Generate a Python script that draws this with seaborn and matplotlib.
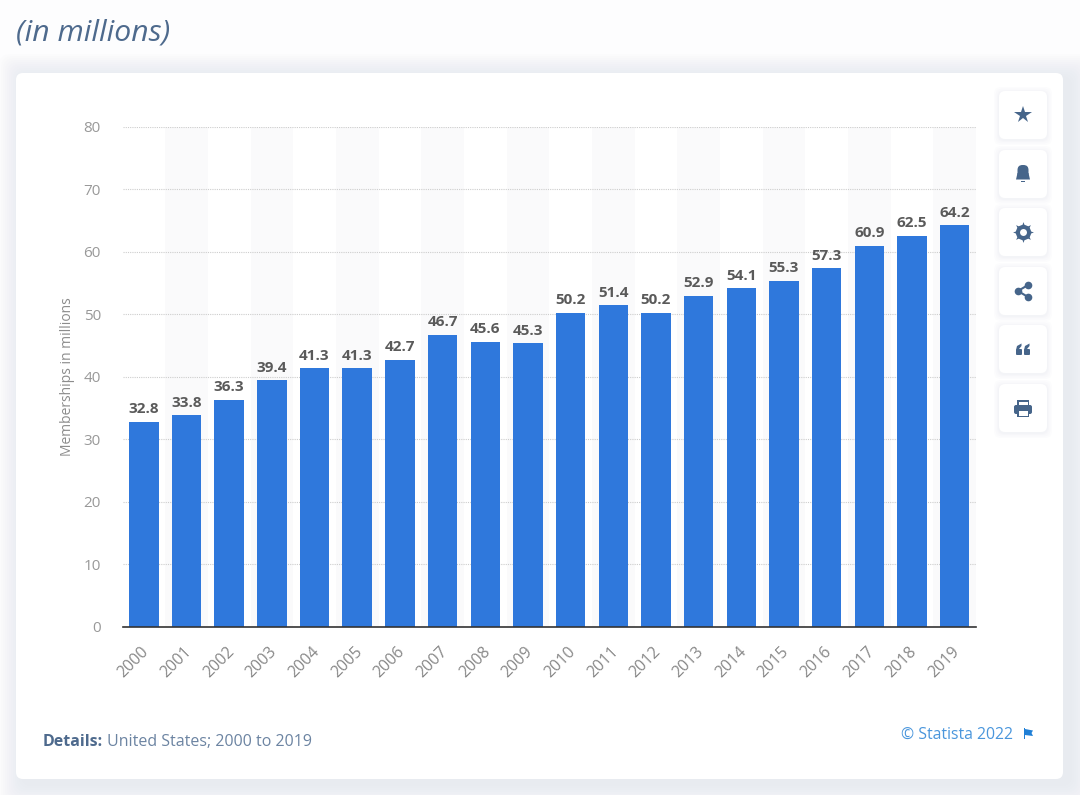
import matplotlib
matplotlib.use('Agg')
from matplotlib import pyplot as plt
from matplotlib.patches import FancyBboxPatch, Rectangle, Polygon
from matplotlib.transforms import ScaledTranslation
import pandas as pd
import seaborn as sns

# chart data
years = ['2000','2001','2002','2003','2004','2005','2006','2007','2008','2009',
         '2010','2011','2012','2013','2014','2015','2016','2017','2018','2019']
memberships = [32.8,33.8,36.3,39.4,41.3,41.3,42.7,46.7,45.6,45.3,
               50.2,51.4,50.2,52.9,54.1,55.3,57.3,60.9,62.5,64.2]
y_ticks = [0,10,20,30,40,50,60,70,80]

W,H = 1080,795
bar_color = '#2f78dc'
icon_color = '#46658a'

sns.set_theme(style='white')
plt.rcParams['font.family'] = ['Open Sans','DejaVu Sans']

fig = plt.figure(figsize=(W/100,H/100),dpi=100,facecolor='#fdfdfe')

# whole figure overlay in pixel coords (y down)
bg = fig.add_axes([0,0,1,1],zorder=0)
bg.set_xlim(0,W)
bg.set_ylim(H,0)
bg.axis('off')

# soft shadow and white card
for grow in range(48,0,-4):
    bg.add_patch(FancyBboxPatch((16-grow/2+7,73-grow/2+5),1047+grow,706+grow,
                                boxstyle='round,pad=0,rounding_size=12',fc='#cdd2dc',ec='none',alpha=0.03))
bg.add_patch(FancyBboxPatch((16,73),1047,706,boxstyle='round,pad=0,rounding_size=7',fc='white',ec='none'))

bg.text(16,33,'(in millions)',fontsize=21.7,style='italic',color='#4e6a8d',va='center',ha='left')

# bar chart
ax = fig.add_axes([122.5/W,1-626.6/H,853.5/W,500/H],zorder=1)
ax.patch.set_alpha(0)
df = pd.DataFrame({'year':years,'memberships':memberships})
sns.barplot(data=df,x='year',y='memberships',color=bar_color,saturation=1,width=0.69,linewidth=0,ax=ax,zorder=3)
for i in range(1,len(years),2):
    ax.axvspan(i-0.5,i+0.5,color='#fafafb',lw=0,zorder=0)
ax.set_xlim(-0.5,len(years)-0.5)
ax.set_ylim(0,80)
ax.set_yticks(y_ticks)
ax.yaxis.grid(True,linestyle=(0,(1,1)),linewidth=0.8,color='#cdcdcd',zorder=1)
ax.set_axisbelow(True)
for s in ['top','left','right']:
    ax.spines[s].set_visible(False)
ax.spines['bottom'].set_color('#333333')
ax.spines['bottom'].set_linewidth(1.2)
ax.spines['bottom'].set_zorder(5)
ax.tick_params(axis='both',length=0)
ax.tick_params(axis='y',labelsize=11,labelcolor='#999999',pad=15.5)
ax.tick_params(axis='x',labelsize=11.5,labelcolor='#888888',pad=12)
x_shift = ScaledTranslation(-3/100,0,fig.dpi_scale_trans)
for lab in ax.get_xticklabels():
    lab.set_rotation(45)
    lab.set_ha('right')
    lab.set_rotation_mode('anchor')
    lab.set_transform(lab.get_transform()+x_shift)
ax.set_xlabel('')
ax.set_ylabel('Memberships in millions',fontsize=10,color='#8c8c8c')
ax.yaxis.set_label_coords((75-122.5)/853.5,0.5)
for c in ax.containers:
    ax.bar_label(c,fmt='%.1f',padding=4,fontsize=11,fontweight='bold',color='#5a5a5a')

# footer
bg.text(43,741.5,'Details:',fontsize=11.5,fontweight='bold',color='#4e6a8d',va='center',ha='left')
bg.text(107,741.5,'United States; 2000 to 2019',fontsize=11.55,color='#6c84a2',va='center',ha='left')
bg.text(1013,734.5,'© Statista 2022',fontsize=11.4,color='#4a96dc',va='center',ha='right')
bg.add_patch(Rectangle((1024,728),1.4,11,fc='#1f7fd6',ec='none'))
bg.add_patch(Polygon([(1025,729),(1033,730.5),(1031.5,733),(1033,736),(1025,735)],fc='#1f7fd6',ec='none'))

# toolbar buttons on the right
btn_tops = [91,150,208,267,325,384]
for top in btn_tops:
    for g in (5,3.5,2,1):
        bg.add_patch(FancyBboxPatch((999-g,top-g+1),48+2*g,48+2*g,
                                    boxstyle='round,pad=0,rounding_size=7',fc='#c9d0e0',ec='none',alpha=0.05))
    bg.add_patch(FancyBboxPatch((999,top),48,48,boxstyle='round,pad=0,rounding_size=6',fc='white',ec='none'))

cx = 1023
# star
bg.plot([cx],[114.5],marker='*',ms=13,color=icon_color,mew=0)
# bell
bg.add_patch(FancyBboxPatch((cx-5.5,165),11,14,boxstyle='round,pad=0,rounding_size=5',fc=icon_color,ec='none'))
bg.add_patch(Polygon([(cx-7,179.5),(cx+7,179.5),(cx+5.5,173),(cx-5.5,173)],fc=icon_color,ec='none'))
bg.add_patch(Rectangle((cx-2,180.5),4,1.5,fc=icon_color,ec='none'))
# gear
bg.plot([cx],[232],marker=(8,1,0),ms=15,color=icon_color,mew=0,zorder=3)
bg.plot([cx],[232],'o',ms=11,color=icon_color,mew=0,zorder=4)
bg.plot([cx],[232],'o',ms=5,color='white',mew=0,zorder=5)
# share
bg.plot([cx+5,cx-5,cx+5],[285,291,297],color=icon_color,lw=1.5)
bg.plot([cx+5,cx-5,cx+5],[285,291,297],'o',ms=5.5,color=icon_color,mew=0)
# quote
for dx in (-7,1):
    bg.add_patch(FancyBboxPatch((cx+dx,349),6,6,boxstyle='round,pad=0,rounding_size=1',fc=icon_color,ec='none'))
    bg.add_patch(Polygon([(cx+dx,350),(cx+dx+1,346),(cx+dx+5.5,343.5),(cx+dx+5.5,346),(cx+dx+3,349)],fc=icon_color,ec='none'))
# printer
bg.add_patch(FancyBboxPatch((cx-9,405),18,9,boxstyle='round,pad=0,rounding_size=2',fc=icon_color,ec='none'))
bg.add_patch(Rectangle((cx-6,400),12,5,fc=icon_color,ec='none'))
bg.add_patch(Rectangle((cx-4.5,401.5),9,3,fc='white',ec='none'))
bg.add_patch(Rectangle((cx-6,410),12,7,fc=icon_color,ec='none'))
bg.add_patch(Rectangle((cx-4.5,411),9,4.5,fc='white',ec='none'))

fig.savefig('out.png',dpi=100,facecolor=fig.get_facecolor())
